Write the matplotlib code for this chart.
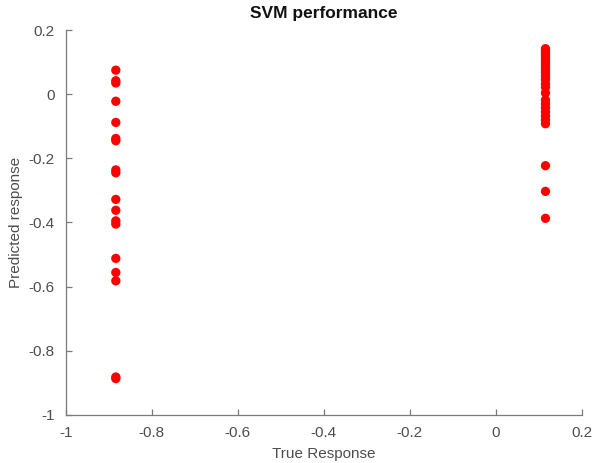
import matplotlib.pyplot as plt

# true response values (two classes) and SVM predictions
true_low = -0.8839
true_high = 0.1161

pred_low = [0.075, 0.042, 0.035, -0.022, -0.088, -0.138, -0.145, -0.236, -0.245,
            -0.328, -0.362, -0.395, -0.405, -0.512, -0.556, -0.582, -0.882, -0.887]
pred_high = [0.142, 0.135, 0.128, 0.12, 0.112, 0.105, 0.098, 0.09, 0.082, 0.074,
             0.066, 0.056, 0.046, 0.032, 0.022, 0.004, -0.018, -0.03, -0.042,
             -0.055, -0.068, -0.08, -0.092, -0.223, -0.303, -0.387]

x_ticks = [-1, -0.8, -0.6, -0.4, -0.2, 0, 0.2]
y_ticks = [-1, -0.8, -0.6, -0.4, -0.2, 0, 0.2]

plt.rcParams['font.family'] = ['Liberation Sans', 'DejaVu Sans']
axis_color = '#7a7a7a'
text_color = '#4d4d4d'

fig = plt.figure(figsize=(5.94, 4.63), dpi=100)
ax = fig.add_axes([0.111, 0.104, 0.868, 0.831])

x = [true_low] * len(pred_low) + [true_high] * len(pred_high)
y = pred_low + pred_high
ax.scatter(x, y, s=45, c='#ff0000', edgecolors='none', zorder=3)

ax.set_xlim(-1, 0.2)
ax.set_ylim(-1, 0.2)
ax.set_xticks(x_ticks)
ax.set_yticks(y_ticks)
ax.set_xticklabels([f'{t:g}' for t in x_ticks])
ax.set_yticklabels([f'{t:g}' for t in y_ticks])

for side in ['top', 'right']:
    ax.spines[side].set_visible(False)
for side in ['left', 'bottom']:
    ax.spines[side].set_color(axis_color)
    ax.spines[side].set_linewidth(0.9)

ax.tick_params(direction='in', length=4, width=0.9, colors=axis_color,
               labelcolor=text_color, labelsize=11, pad=8)

ax.set_xlabel('True Response', fontsize=11, color=text_color, labelpad=5)
ax.set_ylabel('Predicted response', fontsize=11, color=text_color, labelpad=4)
ax.set_title('SVM performance', fontsize=12.5, fontweight='bold', color='#111111', pad=9)

fig.savefig('out.png', dpi=100, facecolor='white')
